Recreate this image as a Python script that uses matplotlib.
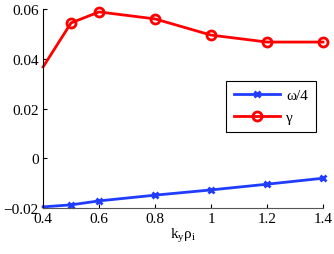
import matplotlib
matplotlib.use("Agg")
import matplotlib.pyplot as plt

# growth-rate / frequency scan vs k_y rho_i
kyrho = [0.4, 0.5, 0.6, 0.8, 1.0, 1.2, 1.4]
omega_4 = [-0.0195, -0.0187, -0.0171, -0.0148, -0.0127, -0.0104, -0.0080]
gamma = [0.0367, 0.0544, 0.0588, 0.0560, 0.0495, 0.0467, 0.0467]

xticks = [0.4, 0.6, 0.8, 1.0, 1.2, 1.4]
xticklabels = ["0.4", "0.6", "0.8", "1", "1.2", "1.4"]
yticks = [-0.02, 0, 0.02, 0.04, 0.06]
yticklabels = ["\u22120.02", "0", "0.02", "0.04", "0.06"]

plt.rcParams["font.family"] = ["Liberation Serif", "DejaVu Serif"]
plt.rcParams["font.size"] = 11

fig = plt.figure(figsize=(3.34, 2.55), dpi=100)
ax = fig.add_axes([0.129, 0.18, 0.838, 0.781])

ax.plot(kyrho, omega_4, color="#1f3cff", lw=2, marker="x", ms=5, mew=2,
        markevery=slice(1, None), label="\u03c9/4", clip_on=False)
ax.plot(kyrho, gamma, color="#ff0000", lw=2, marker="o", ms=6.5, mew=2,
        mfc="none", markevery=slice(1, None), label="\u03b3", clip_on=False)

ax.set_xlim(0.4, 1.4)
ax.set_ylim(-0.02, 0.06)
ax.set_xticks(xticks)
ax.set_xticklabels(xticklabels)
ax.set_yticks(yticks)
ax.set_yticklabels(yticklabels)
ax.tick_params(direction="in", length=3, width=0.8, pad=3)
for s in ["top", "right"]:
    ax.spines[s].set_visible(False)
ax.spines["bottom"].set_color("#555555")
ax.set_xlabel("k$_\\mathregular{y}$\u03c1$_\\mathregular{i}$", labelpad=0)

leg = ax.legend(loc="upper left", bbox_to_anchor=(0.655, 0.638),
                fancybox=False, edgecolor="black", framealpha=1,
                handlelength=3.0, handletextpad=0.4, borderpad=0.5,
                borderaxespad=0, labelspacing=0.55)
leg.get_frame().set_linewidth(0.8)

fig.savefig("out.png", dpi=100)
